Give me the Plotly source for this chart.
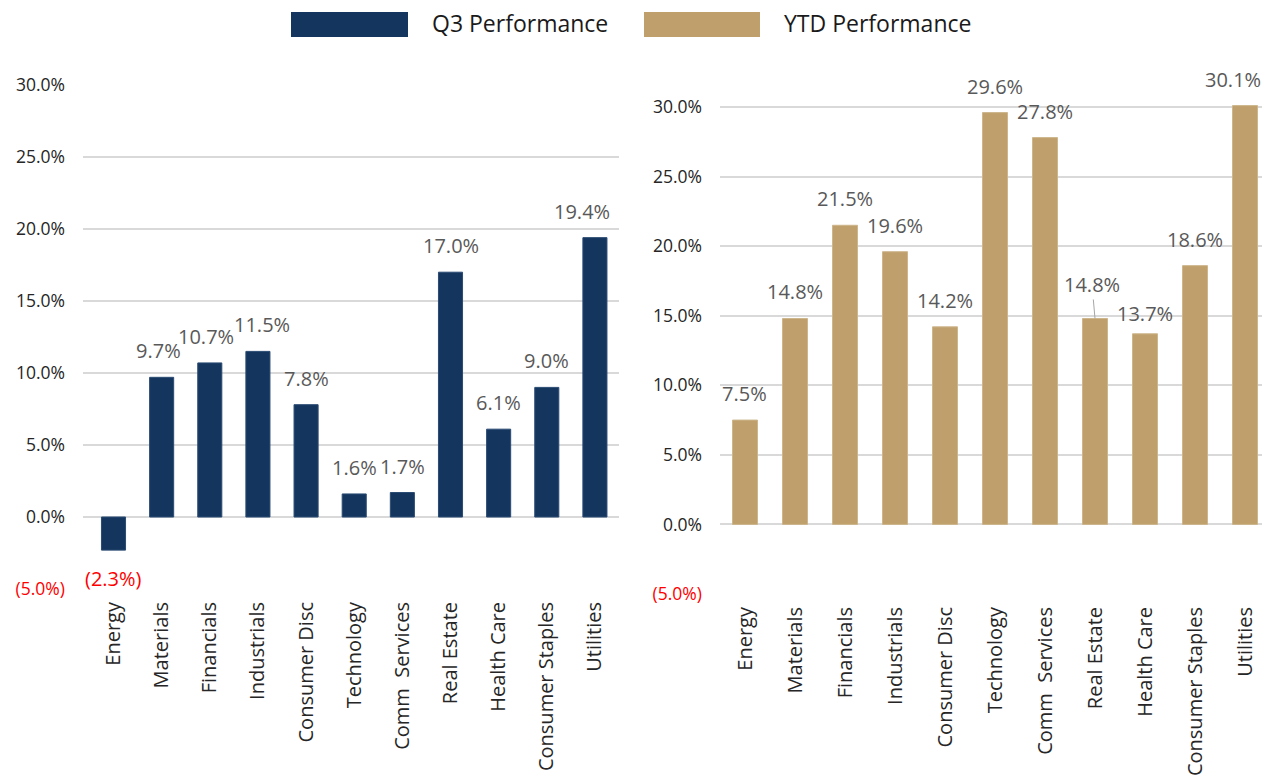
import plotly.graph_objects as go

# ---------------- data ----------------
sectors = ["Energy", "Materials", "Financials", "Industrials", "Consumer Disc",
           "Technology", "Comm  Services", "Real Estate", "Health Care",
           "Consumer Staples", "Utilities"]
q3_perf = [-2.3, 9.7, 10.7, 11.5, 7.8, 1.6, 1.7, 17.0, 6.1, 9.0, 19.4]
ytd_perf = [7.5, 14.8, 21.5, 19.6, 14.2, 29.6, 27.8, 14.8, 13.7, 18.6, 30.1]
y_ticks = [-5, 0, 5, 10, 15, 20, 25, 30]
series_names = ["Q3 Performance", "YTD Performance"]

# ---------------- style ----------------
NAVY = "#14365E"
TAN = "#BFA06C"
GRID = "#D9D9D9"
TICK_COL = "#262626"
LABEL_COL = "#595959"
RED = "#FF0000"
FONT = "Open Sans"

# the page body has an 8px margin: size the figure so it fills the 1270x780 window
OFF = 8
W, H = 1270 - OFF, 780 - OFF


def px_x(sx):
    return (sx - OFF) / W


def px_y(sy):
    return 1 - (sy - OFF) / H


# label nudges (pixels) to mimic the hand-placed labels of the original
nudge_q3 = {"Materials": (-3, 0), "Financials": (-4, 0), "Industrials": (4, 0),
            "Utilities": (-13, 0)}
nudge_ytd = {"Utilities": (-12, 0), "Health Care": (0, -6)}


def fmt_pct(v):
    return f"({abs(v):.1f}%)" if v < 0 else f"{v:.1f}%"


def tick_text(vals):
    out = []
    for v in vals:
        if v < 0:
            out.append(f"<span style='color:{RED}'>{fmt_pct(v)}</span>")
        else:
            out.append(fmt_pct(v))
    return out


fig = go.Figure()
fig.add_trace(go.Bar(x=sectors, y=q3_perf, name=series_names[0],
                     marker=dict(color=NAVY, line=dict(color="#2A4B73", width=1)),
                     xaxis="x", yaxis="y", showlegend=False, cliponaxis=False,
                     hoverinfo="x+y"))
fig.add_trace(go.Bar(x=sectors, y=ytd_perf, name=series_names[1],
                     marker=dict(color=TAN, line=dict(color="#CDB58C", width=1)),
                     xaxis="x2", yaxis="y2", showlegend=False, cliponaxis=False,
                     hoverinfo="x+y"))

annotations = []
LBL_FONT = dict(family=FONT, size=20, color=LABEL_COL)

for cat, v in zip(sectors, q3_perf):
    dx, dy = nudge_q3.get(cat, (0, 0))
    if v >= 0:
        annotations.append(dict(x=cat, y=v, xref="x", yref="y", text=fmt_pct(v),
                                showarrow=False, yanchor="bottom", xanchor="center",
                                xshift=dx, yshift=11 + dy, font=LBL_FONT))
    else:
        annotations.append(dict(x=cat, y=v, xref="x", yref="y", text=fmt_pct(v),
                                showarrow=False, yanchor="top", xanchor="center",
                                xshift=dx, yshift=-13 + dy,
                                font=dict(family=FONT, size=20, color=RED)))

for cat, v in zip(sectors, ytd_perf):
    dx, dy = nudge_ytd.get(cat, (0, 0))
    if cat == "Real Estate":
        annotations.append(dict(x=cat, y=v, xref="x2", yref="y2", text=fmt_pct(v),
                                showarrow=True, arrowhead=0, arrowwidth=1,
                                arrowcolor="#A6A6A6", ax=-3, ay=-34, standoff=0,
                                font=LBL_FONT))
    else:
        annotations.append(dict(x=cat, y=v, xref="x2", yref="y2", text=fmt_pct(v),
                                showarrow=False, yanchor="bottom", xanchor="center",
                                xshift=dx, yshift=11 + dy, font=LBL_FONT))

# custom legend (large swatches like the original)
shapes = [
    dict(type="rect", xref="paper", yref="paper",
         x0=px_x(291), x1=px_x(408), y0=px_y(37), y1=px_y(12),
         fillcolor=NAVY, line=dict(width=0)),
    dict(type="rect", xref="paper", yref="paper",
         x0=px_x(644), x1=px_x(760), y0=px_y(37), y1=px_y(12),
         fillcolor=TAN, line=dict(width=0)),
]
for xpx, name in zip([430, 782], series_names):
    annotations.append(dict(x=px_x(xpx), y=px_y(23), xref="paper", yref="paper",
                            text=name, showarrow=False, xanchor="left",
                            yanchor="middle",
                            font=dict(family=FONT, size=23, color="#1A1A1A")))

yaxis_common = dict(tickvals=y_ticks, ticktext=tick_text(y_ticks),
                    showgrid=True, gridcolor=GRID, gridwidth=1.5, zeroline=False,
                    showline=False, ticks="", ticklabelstandoff=17,
                    automargin=False,
                    tickfont=dict(family=FONT, size=17.5, color=TICK_COL),
                    fixedrange=True)
xaxis_common = dict(tickangle=-90, showgrid=False, zeroline=False, showline=False,
                    ticks="", ticklabelstandoff=8, automargin=False,
                    tickfont=dict(family=FONT, size=20, color=TICK_COL),
                    fixedrange=True)

# right panel: range slightly above 30 so the 30.1% bar/label show; keep 30% line at same pixel
r_top = 30.2
r_px_per = (594 - 107) / 35.0
r_top_px = 107 - (r_top - 30) * r_px_per

fig.update_layout(
    template="none",
    width=W, height=H,
    autosize=False,
    margin=dict(l=0, r=0, t=0, b=0, pad=0, autoexpand=False),
    paper_bgcolor="white", plot_bgcolor="white",
    bargap=0.5,
    font=dict(family=FONT),
    xaxis=dict(domain=[px_x(83), px_x(619)], anchor="y", **xaxis_common),
    yaxis=dict(domain=[px_y(589), px_y(85)], anchor="x", range=[-5, 30],
               **yaxis_common),
    xaxis2=dict(domain=[px_x(720), 1.0], anchor="y2", **xaxis_common),
    yaxis2=dict(domain=[px_y(594), px_y(r_top_px)], anchor="x2",
                range=[-5, r_top], **yaxis_common),
    shapes=shapes,
    annotations=annotations,
    showlegend=False,
)

fig.write_html("out.html")
